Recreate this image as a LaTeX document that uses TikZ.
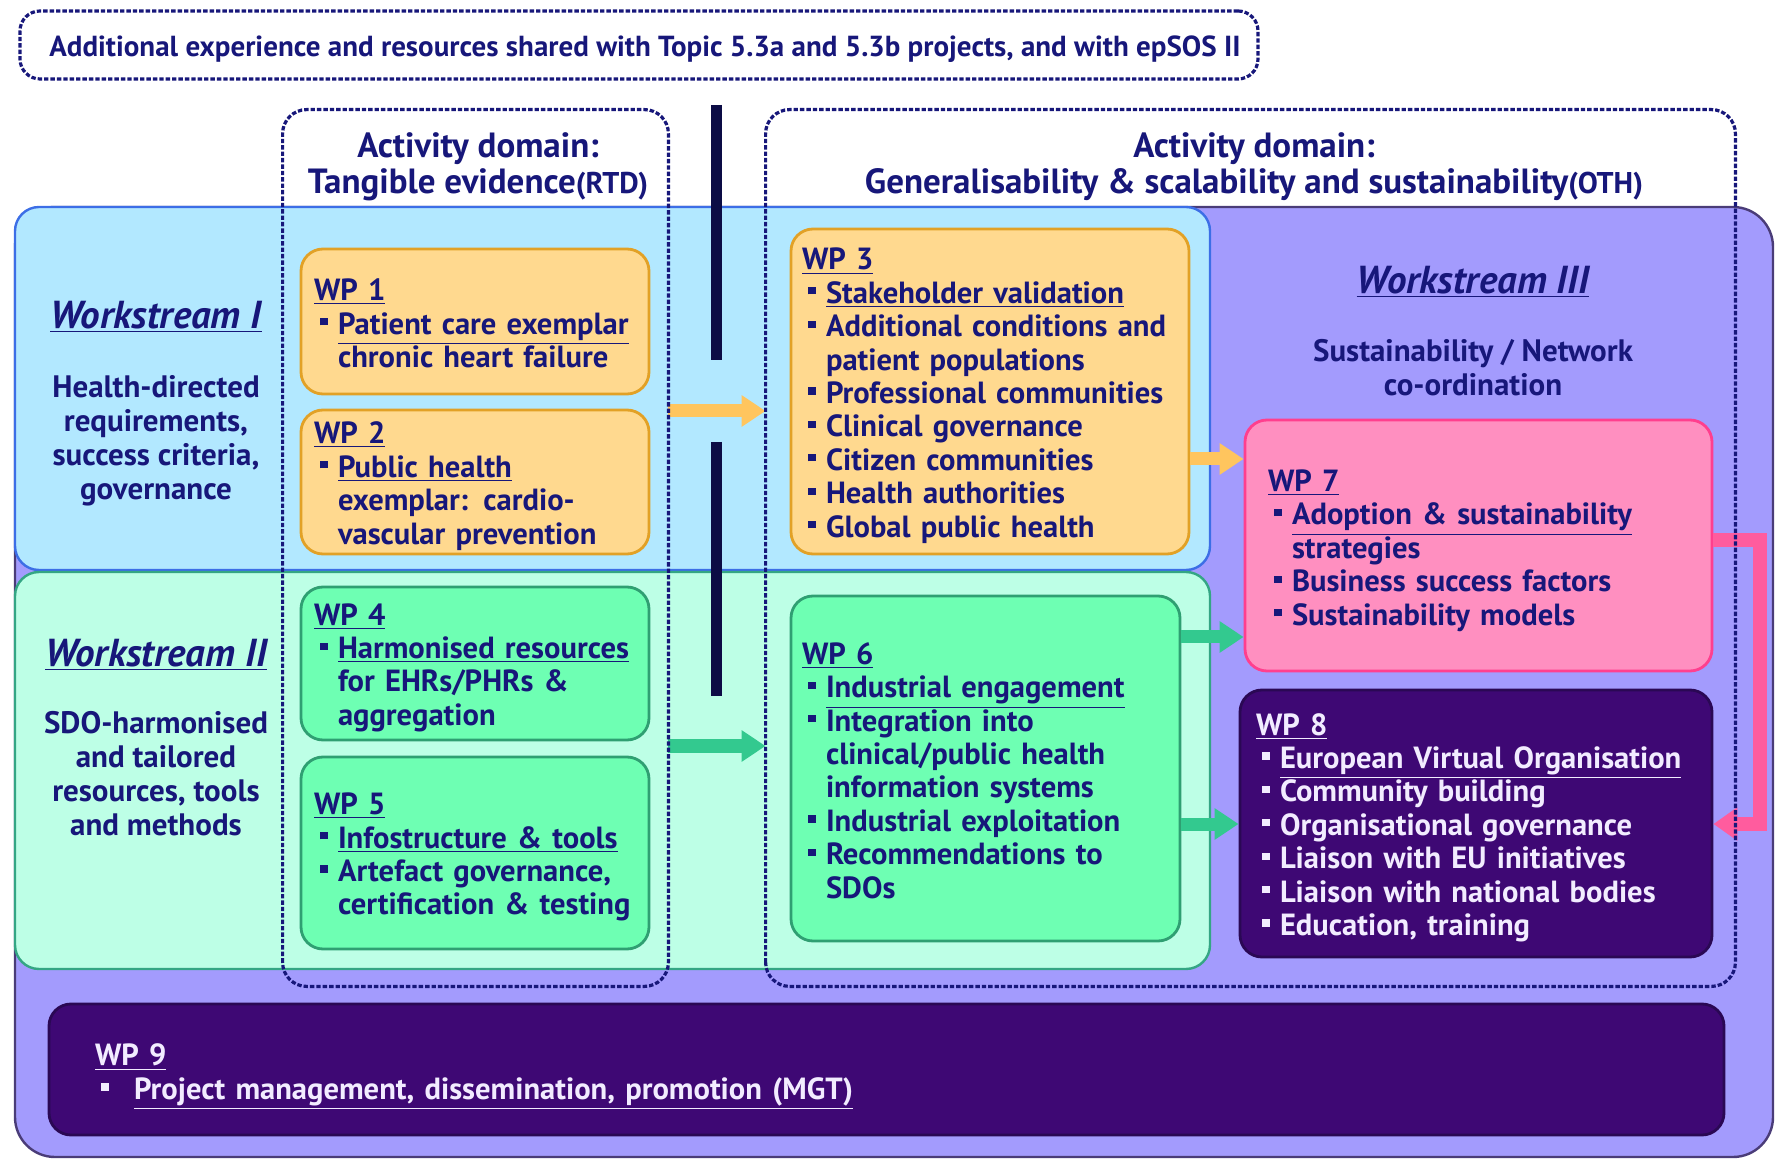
\documentclass[tikz,border=0pt]{standalone}
\usepackage{fontspec}
\setmainfont{PT Sans}
\usetikzlibrary{arrows.meta}
\definecolor{navy}{HTML}{17177A}
\definecolor{outerfill}{HTML}{A39BFD}
\definecolor{outerdraw}{HTML}{4A3C78}
\definecolor{bluefill}{HTML}{B2E8FF}
\definecolor{bluedraw}{HTML}{3C6EE6}
\definecolor{greenfill}{HTML}{BDFFE6}
\definecolor{greendraw}{HTML}{34A684}
\definecolor{orfill}{HTML}{FFD98F}
\definecolor{ordraw}{HTML}{E2A126}
\definecolor{gfill}{HTML}{6EFFB3}
\definecolor{gdraw}{HTML}{2F9F72}
\definecolor{pkfill}{HTML}{FF8FC0}
\definecolor{pkdraw}{HTML}{FF3F8E}
\definecolor{dpfill}{HTML}{3E0874}
\definecolor{dpdraw}{HTML}{2A0854}
\definecolor{lighttxt}{HTML}{F2ECFF}
\definecolor{orarrow}{HTML}{FFC55E}
\definecolor{grarrow}{HTML}{33C98F}
\definecolor{pinkconn}{HTML}{FF5C9E}
\definecolor{barcol}{HTML}{0C0C45}
\newlength{\itind}\setlength{\itind}{12pt}
\newcommand{\wpi}[1]{\par\noindent\hangindent=\itind\hangafter=1\makebox[\itind][l]{\hspace{3.2pt}\rule[4.4pt]{3.6pt}{3.6pt}}#1\par}
\newcommand{\wpl}[2][15pt]{\noindent\rule{0pt}{#1}\underline{#2}\par}
\newcommand{\bodyfont}{\fontsize{15.3}{16.7}\selectfont\bfseries}
\tikzset{
  box/.style={rectangle, rounded corners=12pt, line width=1.2pt},
  wp/.style={rectangle, draw, rounded corners=11pt, line width=1.4pt, align=left, inner ysep=0pt, text=navy, font=\bodyfont},
  wporange/.style={wp, fill=orfill, draw=ordraw},
  wpgreen/.style={wp, fill=gfill, draw=gdraw},
  wppink/.style={wp, fill=pkfill, draw=pkdraw},
  wpdark/.style={wp, fill=dpfill, draw=dpdraw, text=lighttxt},
  dombox/.style={rectangle, draw=navy, line width=1.6pt, dash pattern=on 2.2pt off 1pt, rounded corners=12pt},
  blockarrow/.style={line width=6.5pt, -{Triangle[width=15pt,length=12pt]}},
  bar/.style={draw=barcol, line width=5.5pt},
  wshead/.style={font=\fontsize{19.5}{22}\selectfont\bfseries\itshape, text=navy, align=center},
  wsdesc/.style={font=\fontsize{15.5}{17}\selectfont\bfseries, text=navy, align=center},
  titletext/.style={font=\fontsize{17.5}{18}\selectfont\bfseries, text=navy, align=center},
}
\newcommand{\tsmall}[1]{{\fontsize{15}{18}\selectfont #1}}
\begin{document}
\begin{tikzpicture}[x=0.5pt, y=-0.5pt]
\useasboundingbox (0,0) rectangle (1777,1159);
% background containers
\node[box, fill=outerfill, draw=outerdraw, rounded corners=20pt, minimum width=879pt, minimum height=475pt] (outer) at (894,682) {};
\node[box, fill=bluefill, draw=bluedraw, minimum width=597.5pt, minimum height=181.5pt] (ws1) at (612.5,388.5) {};
\node[box, fill=greenfill, draw=greendraw, minimum width=597.5pt, minimum height=198.5pt] (ws2) at (612.5,770.5) {};
% top box
\node[dombox, rounded corners=10pt, minimum width=619pt, minimum height=34pt] (top) at (639,45) {};
\node[text=navy, font=\fontsize{14.5}{16}\selectfont\bfseries] (toptext) at (645,49) {Additional experience and resources shared with Topic 5.3a and 5.3b projects, and with epSOS II};
% work packages
\node[wporange, minimum width=174pt, minimum height=72.5pt, inner xsep=6.5pt, text width=161pt] (wp1) at (475,321.5)
 {\wpl[13pt]{WP 1}\wpi{\underline{Patient care exemplar}\newline chronic heart failure}};
\node[wporange, minimum width=174pt, minimum height=72pt, inner xsep=6.5pt, text width=161pt] (wp2) at (475,482)
 {\wpl{WP 2}\wpi{\underline{Public health}\newline exemplar: cardio-\newline vascular prevention}};
\node[wporange, minimum width=199pt, minimum height=162.5pt, inner xsep=5.5pt, text width=188pt] (wp3) at (990,391.5)
 {\wpl{WP 3}\wpi{\underline{Stakeholder validation}}\wpi{Additional conditions and\newline patient populations}\wpi{Professional communities}\wpi{Clinical governance}\wpi{Citizen communities}\wpi{Health authorities}\wpi{Global public health}};
\node[wpgreen, minimum width=174pt, minimum height=76.5pt, inner xsep=6.5pt, text width=161pt] (wp4) at (475,663.5)
 {\wpl{WP 4}\wpi{\underline{Harmonised resources}\newline for EHRs/PHRs \&\newline aggregation}};
\node[wpgreen, minimum width=174pt, minimum height=96pt, inner xsep=6.5pt, text width=161pt] (wp5) at (475,853)
 {\wpl{WP 5}\wpi{\underline{Infostructure \& tools}}\wpi{Artefact governance,\newline certification \& testing}};
\node[wpgreen, minimum width=194.5pt, minimum height=172.5pt, inner xsep=5.5pt, text width=183.5pt] (wp6) at (985.5,768.5)
 {\wpl[13pt]{WP 6}\wpi{\underline{Industrial engagement}}\wpi{Integration into\newline clinical/public health\newline information systems}\wpi{Industrial exploitation}\wpi{Recommendations to\newline SDOs}};
\node[wppink, minimum width=233.5pt, minimum height=125.5pt, inner xsep=11.5pt, text width=210.5pt] (wp7) at (1478.5,545.5)
 {\wpl[16pt]{WP 7}\wpi{\underline{Adoption \& sustainability}\newline strategies}\wpi{Business success factors}\wpi{Sustainability models}};
\node[wpdark, minimum width=236pt, minimum height=133.5pt, inner xsep=8pt, text width=220pt] (wp8) at (1476,823.5)
 {\wpl{WP 8}\wpi{\underline{European Virtual Organisation}}\wpi{Community building}\wpi{Organisational governance}\wpi{Liaison with EU initiatives}\wpi{Liaison with national bodies}\wpi{Education, training}};
\node[wpdark, minimum width=837.5pt, minimum height=65.5pt, inner xsep=23pt, text width=791.5pt] (wp9) at (886.5,1069.5)
 {\setlength{\itind}{19.5pt}\wpl[18.5pt]{WP 9}\wpi{\underline{Project management, dissemination, promotion (MGT)}}};
% domain boxes (shape only, drawn later)
\node[minimum width=192.5pt, minimum height=438pt, inner sep=0pt] (domL) at (475.5,548) {};
\node[minimum width=484.5pt, minimum height=438pt, inner sep=0pt] (domR) at (1250.5,548) {};
% arrows
\draw[blockarrow, orarrow] (domL.east |- 0,411) -- (domR.west |- 0,411);
\draw[blockarrow, orarrow] (wp3.east |- 0,459) -- (wp7.west |- 0,459);
\draw[blockarrow, grarrow] (domL.east |- 0,746) -- (domR.west |- 0,746);
\draw[blockarrow, grarrow] (wp6.east |- 0,637) -- (wp7.west |- 0,637);
\draw[blockarrow, grarrow] (wp6.east |- 0,824) -- (wp8.west |- 0,824);
\coordinate (pk) at (1760,682);
\draw[pinkconn, line width=7pt, -{Triangle[width=16pt,length=12pt]}] (wp7.east |- 0,540) -| (pk) |- (wp8.east |- 0,824);
% separator bars
\draw[bar] (716,105) -- (716,360);
\draw[bar] (716,442) -- (716,696);
% dashed domain outlines
\draw[dombox] (domL.south west) rectangle (domL.north east);
\draw[dombox] (domR.south west) rectangle (domR.north east);
% titles
\node[titletext] (tl) at (478,167) {Activity domain:\\Tangible evidence\tsmall{(RTD)}};
\node[titletext] (tr) at (1254,167) {Activity domain:\\Generalisability \& scalability and sustainability\tsmall{(OTH)}};
% workstream labels
\node[wshead] (h1) at (156,317) {\underline{Workstream I}};
\node[wsdesc] (d1) at (156,441) {Health-directed\\requirements,\\success criteria,\\governance};
\node[wshead] (h2) at (156,655) {\underline{Workstream II}};
\node[wsdesc] (d2) at (156,774) {SDO-harmonised\\and tailored\\resources, tools\\and methods};
\node[wshead] (h3) at (1473,282) {\underline{Workstream III}};
\node[wsdesc] (d3) at (1473,368) {Sustainability / Network\\co-ordination};
\end{tikzpicture}
\end{document}
